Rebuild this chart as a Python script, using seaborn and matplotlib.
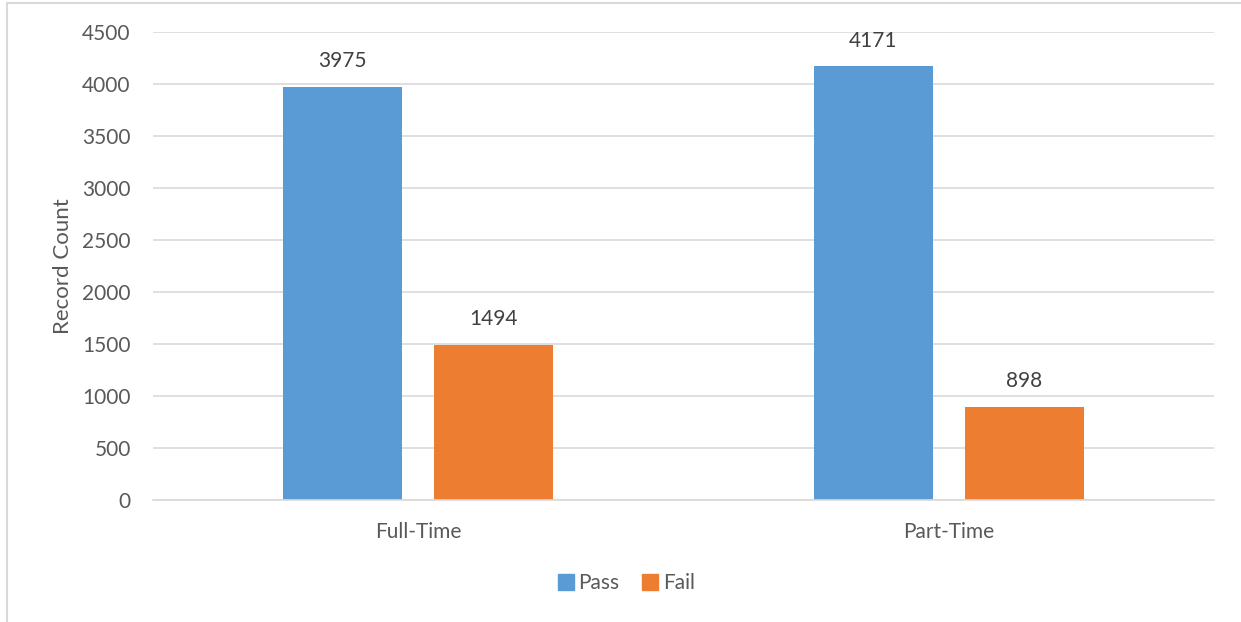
import matplotlib
matplotlib.use("Agg")
import matplotlib.pyplot as plt
from matplotlib.lines import Line2D
import pandas as pd
import seaborn as sns

# chart values
categories = ["Full-Time", "Part-Time"]
series = ["Pass", "Fail"]
pass_counts = [3975, 4171]
fail_counts = [1494, 898]
colors = ["#5b9bd5", "#ed7d31"]

df = pd.DataFrame({
    "Type": categories * 2,
    "Result": ["Pass"] * len(categories) + ["Fail"] * len(categories),
    "Count": pass_counts + fail_counts,
})

sns.set_style("white")
plt.rcParams["font.family"] = ["Lato", "DejaVu Sans"]
txt = "#595959"

fig = plt.figure(figsize=(12.41, 6.22), dpi=100)
ax = fig.add_axes([153 / 1241, 1 - 500 / 622, (1214 - 153) / 1241, (500 - 32) / 622])

sns.barplot(data=df, x="Type", y="Count", hue="Result", hue_order=series,
            palette=colors, width=0.569, gap=0.212, saturation=1,
            linewidth=0, legend=False, ax=ax)

for c in ax.containers:
    ax.bar_label(c, padding=11, fontsize=15, color="#404040")

ax.set_ylim(0, 4500)
ax.set_yticks(range(0, 4501, 500))
ax.set_xlim(-0.5, 1.5)
ax.yaxis.grid(True, color="#d9d9d9", linewidth=1.2)
ax.set_axisbelow(True)
for s in ["top", "right", "left"]:
    ax.spines[s].set_visible(False)
ax.spines["bottom"].set_color("#d9d9d9")
ax.spines["bottom"].set_linewidth(1.2)
ax.tick_params(axis="both", length=0, labelsize=15, labelcolor=txt)
ax.tick_params(axis="y", pad=16)
ax.tick_params(axis="x", pad=16)
ax.set_xlabel("")
ax.set_ylabel("Record Count", fontsize=16, color=txt, labelpad=7)

handles = [Line2D([0], [0], marker="s", linestyle="", markersize=12,
                  markerfacecolor=col, markeredgecolor=col) for col in colors]
fig.legend(handles, series, loc="center", bbox_to_anchor=(625 / 1241, 1 - 583 / 622),
           ncol=2, frameon=False, fontsize=15, labelcolor=txt,
           handletextpad=0.1, columnspacing=1.0, handlelength=1.0)

# chart frame (cropped excel border)
fig.add_artist(Line2D([7 / 1241, 7 / 1241], [0, 1 - 3 / 622], transform=fig.transFigure,
                      color="#d9d9d9", linewidth=1.5))
fig.add_artist(Line2D([7 / 1241, 1], [1 - 3 / 622, 1 - 3 / 622], transform=fig.transFigure,
                      color="#d9d9d9", linewidth=1.5))

fig.savefig("out.png", dpi=100)
